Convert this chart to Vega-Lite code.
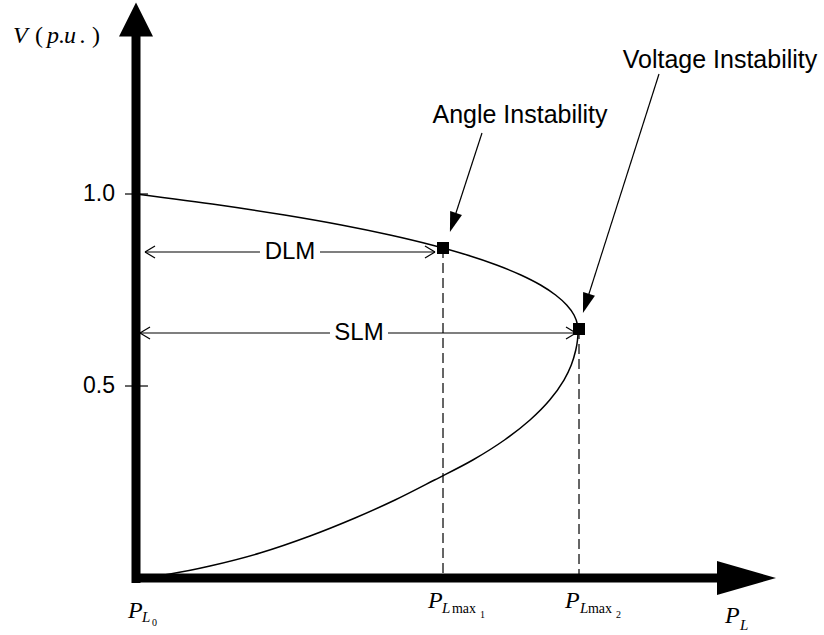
{
  "$schema": "https://vega.github.io/schema/vega-lite/v6.json",
  "width": 824,
  "height": 635,
  "padding": 0,
  "autosize": {"type": "none"},
  "background": "white",
  "config": {"view": {"stroke": null}},
  "datasets": {
    "curve": [
      {"P": 0.0, "V": 1.0, "o": 1},
      {"P": 0.1882, "V": 0.9714, "o": 2},
      {"P": 0.3362, "V": 0.9453, "o": 3},
      {"P": 0.4645, "V": 0.9193, "o": 4},
      {"P": 0.5747, "V": 0.8932, "o": 5},
      {"P": 0.669, "V": 0.8672, "o": 6},
      {"P": 0.7491, "V": 0.8411, "o": 7},
      {"P": 0.8158, "V": 0.8151, "o": 8},
      {"P": 0.8708, "V": 0.7891, "o": 9},
      {"P": 0.9152, "V": 0.763, "o": 10},
      {"P": 0.9493, "V": 0.737, "o": 11},
      {"P": 0.9744, "V": 0.7109, "o": 12},
      {"P": 0.991, "V": 0.6849, "o": 13},
      {"P": 0.9991, "V": 0.6589, "o": 14},
      {"P": 1.0, "V": 0.6458, "o": 15},
      {"P": 0.9989, "V": 0.6198, "o": 16},
      {"P": 0.995, "V": 0.5938, "o": 17},
      {"P": 0.9848, "V": 0.5547, "o": 18},
      {"P": 0.9683, "V": 0.5156, "o": 19},
      {"P": 0.936, "V": 0.4635, "o": 20},
      {"P": 0.8914, "V": 0.4115, "o": 21},
      {"P": 0.8337, "V": 0.3594, "o": 22},
      {"P": 0.762, "V": 0.3073, "o": 23},
      {"P": 0.6753, "V": 0.2552, "o": 24},
      {"P": 0.586, "V": 0.2031, "o": 25},
      {"P": 0.4955, "V": 0.1563, "o": 26},
      {"P": 0.3937, "V": 0.1094, "o": 27},
      {"P": 0.2805, "V": 0.0651, "o": 28},
      {"P": 0.1674, "V": 0.0313, "o": 29},
      {"P": 0.0769, "V": 0.0104, "o": 30},
      {"P": 0.009, "V": 0.0, "o": 31}
    ],
    "segments": [
      {"P": 0, "V": -0.013, "P2": 0, "V2": 1.4141, "w": 9},
      {"P": -0.009, "V": 0, "P2": 1.3167, "V2": 0, "w": 9},
      {"P": -0.0249, "V": 1.0, "P2": 0.0271, "V2": 1.0, "w": 1.2},
      {"P": -0.0249, "V": 0.5, "P2": 0.0271, "V2": 0.5, "w": 1.2},
      {"P": 0.0204, "V": 0.849, "P2": 0.2805, "V2": 0.849, "w": 1.2},
      {"P": 0.4163, "V": 0.849, "P2": 0.6765, "V2": 0.849, "w": 1.2},
      {"P": 0.0204, "V": 0.849, "P2": 0.043, "V2": 0.8646, "w": 1.2},
      {"P": 0.0204, "V": 0.849, "P2": 0.043, "V2": 0.8333, "w": 1.2},
      {"P": 0.6765, "V": 0.849, "P2": 0.6538, "V2": 0.8646, "w": 1.2},
      {"P": 0.6765, "V": 0.849, "P2": 0.6538, "V2": 0.8333, "w": 1.2},
      {"P": 0.009, "V": 0.638, "P2": 0.4389, "V2": 0.638, "w": 1.2},
      {"P": 0.5701, "V": 0.638, "P2": 0.9955, "V2": 0.638, "w": 1.2},
      {"P": 0.009, "V": 0.638, "P2": 0.0317, "V2": 0.6536, "w": 1.2},
      {"P": 0.009, "V": 0.638, "P2": 0.0317, "V2": 0.6224, "w": 1.2},
      {"P": 0.9955, "V": 0.638, "P2": 0.9729, "V2": 0.6536, "w": 1.2},
      {"P": 0.9955, "V": 0.638, "P2": 0.9729, "V2": 0.6224, "w": 1.2},
      {"P": 0.7828, "V": 1.1589, "P2": 0.7217, "V2": 0.9427, "w": 1.2},
      {"P": 1.1833, "V": 1.3125, "P2": 1.0204, "V2": 0.724, "w": 1.2}
    ],
    "dashed": [
      {"P": 0.6946, "V": 0.8594, "P2": 0.6946, "V2": 0.0},
      {"P": 1.0023, "V": 0.6484, "P2": 1.0023, "V2": 0.0}
    ],
    "squares": [
      {"P": 0.6946, "V": 0.8594},
      {"P": 1.0023, "V": 0.6484}
    ],
    "yhead": [{"P": 0, "V": 1.4544}],
    "xhead": [{"P": 1.3812, "V": 0}],
    "pointers": [
      {"P": 0.7172, "V": 0.9258, "a": 197.9},
      {"P": 1.0181, "V": 0.7148, "a": 197.6}
    ],
    "sansText": [
      {"P": -0.0475, "V": 1.0, "t": "1.0"},
      {"P": -0.0475, "V": 0.5, "t": "0.5"}
    ],
    "midText": [
      {"P": 0.3484, "V": 0.849, "t": "DLM"},
      {"P": 0.5045, "V": 0.638, "t": "SLM"}
    ],
    "annot": [
      {"P": 0.8688, "V": 1.1849, "t": "Angle Instability"},
      {"P": 1.3213, "V": 1.3281, "t": "Voltage Instability"}
    ],
    "bigItalic": [
      {"P": -0.2783, "V": 1.3932, "t": "V"},
      {"P": -0.2014, "V": 1.3932, "t": "p"},
      {"P": -0.1742, "V": 1.3932, "t": "."},
      {"P": -0.1629, "V": 1.3932, "t": "u"},
      {"P": -0.1267, "V": 1.3932, "t": "."},
      {"P": -0.0181, "V": -0.1042, "t": "P"},
      {"P": 0.6606, "V": -0.0781, "t": "P"},
      {"P": 0.9706, "V": -0.0781, "t": "P"},
      {"P": 1.3326, "V": -0.1172, "t": "P"}
    ],
    "bigRoman": [
      {"P": -0.2285, "V": 1.3932, "t": "("},
      {"P": -0.0995, "V": 1.3932, "t": ")"}
    ],
    "subItalic": [
      {"P": 0.0136, "V": -0.1146, "t": "L"},
      {"P": 0.6923, "V": -0.0911, "t": "L"},
      {"P": 1.0045, "V": -0.0911, "t": "L"},
      {"P": 1.3665, "V": -0.1354, "t": "L"}
    ],
    "subRoman": [
      {"P": 0.7149, "V": -0.0911, "t": "max"},
      {"P": 1.0226, "V": -0.0911, "t": "max"}
    ],
    "subsub": [
      {"P": 0.0362, "V": -0.125, "t": "0"},
      {"P": 0.7783, "V": -0.1042, "t": "1"},
      {"P": 1.086, "V": -0.1042, "t": "2"}
    ]
  },
  "encoding": {
    "x": {"field": "P", "type": "quantitative", "scale": {"domain": [-0.3077, 1.5566], "nice": false, "zero": false}, "axis": null},
    "y": {"field": "V", "type": "quantitative", "scale": {"domain": [-0.1484, 1.5052], "nice": false, "zero": false}, "axis": null}
  },
  "layer": [
    {
      "data": {"name": "segments"},
      "mark": {"type": "rule", "color": "black", "strokeCap": "butt"},
      "encoding": {
        "x2": {"field": "P2"},
        "y2": {"field": "V2"},
        "strokeWidth": {"field": "w", "type": "quantitative", "scale": null}
      }
    },
    {
      "data": {"name": "dashed"},
      "mark": {"type": "rule", "color": "black", "strokeWidth": 1.2, "strokeDash": [10, 5]},
      "encoding": {
        "x2": {"field": "P2"},
        "y2": {"field": "V2"}
      }
    },
    {
      "data": {"name": "curve"},
      "mark": {"type": "line", "color": "black", "strokeWidth": 1.5, "interpolate": "catmull-rom"},
      "encoding": {"order": {"field": "o", "type": "quantitative"}}
    },
    {
      "data": {"name": "squares"},
      "mark": {"type": "point", "shape": "square", "filled": true, "color": "black", "size": 144, "opacity": 1}
    },
    {
      "data": {"name": "yhead"},
      "mark": {"type": "point", "shape": "M0,-1L-1,1L1,1Z", "filled": true, "color": "black", "size": 1156, "opacity": 1, "strokeWidth": 0}
    },
    {
      "data": {"name": "xhead"},
      "mark": {"type": "point", "shape": "M1,0L-1,-0.58L-1,0.58Z", "filled": true, "color": "black", "size": 3481, "opacity": 1, "strokeWidth": 0}
    },
    {
      "data": {"name": "pointers"},
      "mark": {"type": "point", "shape": "M0,-1L-0.62,1L0.62,1Z", "filled": true, "color": "black", "size": 400, "opacity": 1, "strokeWidth": 0},
      "encoding": {"angle": {"field": "a", "type": "quantitative", "scale": null}}
    },
    {
      "data": {"name": "sansText"},
      "mark": {"type": "text", "font": "Liberation Sans", "fontSize": 23, "align": "right", "baseline": "middle", "color": "black"},
      "encoding": {"text": {"field": "t"}}
    },
    {
      "data": {"name": "midText"},
      "mark": {"type": "text", "font": "Liberation Sans", "fontSize": 24, "align": "center", "baseline": "middle", "color": "black"},
      "encoding": {"text": {"field": "t"}}
    },
    {
      "data": {"name": "annot"},
      "mark": {"type": "text", "font": "Liberation Sans", "fontSize": 25, "align": "center", "baseline": "alphabetic", "color": "black"},
      "encoding": {"text": {"field": "t"}}
    },
    {
      "data": {"name": "bigItalic"},
      "mark": {"type": "text", "font": "Liberation Serif", "fontStyle": "italic", "fontSize": 24, "align": "left", "baseline": "alphabetic", "color": "black"},
      "encoding": {"text": {"field": "t"}}
    },
    {
      "data": {"name": "bigRoman"},
      "mark": {"type": "text", "font": "Liberation Serif", "fontSize": 24, "align": "left", "baseline": "alphabetic", "color": "black"},
      "encoding": {"text": {"field": "t"}}
    },
    {
      "data": {"name": "subItalic"},
      "mark": {"type": "text", "font": "Liberation Serif", "fontStyle": "italic", "fontSize": 15, "align": "left", "baseline": "alphabetic", "color": "black"},
      "encoding": {"text": {"field": "t"}}
    },
    {
      "data": {"name": "subRoman"},
      "mark": {"type": "text", "font": "Liberation Serif", "fontSize": 14, "align": "left", "baseline": "alphabetic", "color": "black"},
      "encoding": {"text": {"field": "t"}}
    },
    {
      "data": {"name": "subsub"},
      "mark": {"type": "text", "font": "Liberation Serif", "fontSize": 10, "align": "left", "baseline": "alphabetic", "color": "black"},
      "encoding": {"text": {"field": "t"}}
    }
  ]
}
